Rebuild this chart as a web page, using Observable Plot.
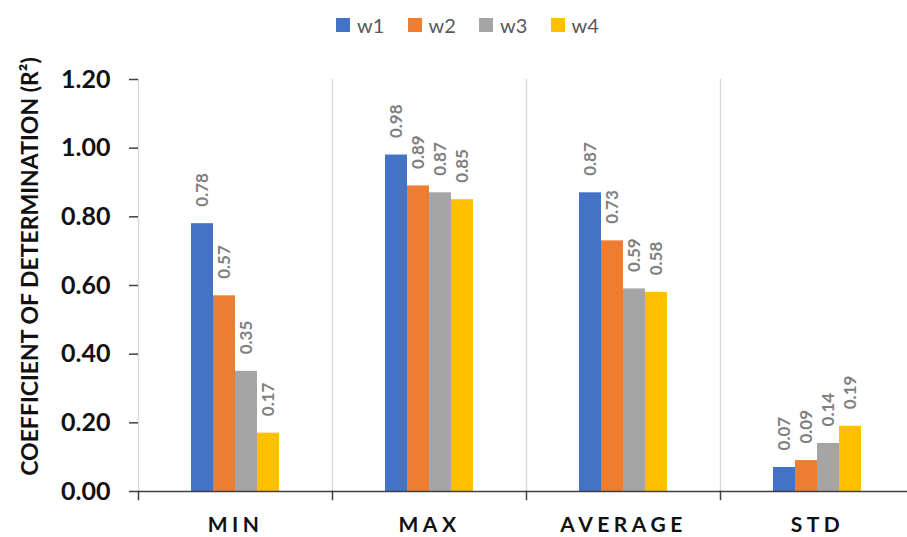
<!DOCTYPE html>
<html>
<head>
<meta charset="utf-8">
<script src="https://cdn.jsdelivr.net/npm/d3@7"></script>
<script src="https://cdn.jsdelivr.net/npm/@observablehq/plot@0.6"></script>
<style>
  body { margin: 0; background: #fff; }
  #chart { width: 907px; height: 537px; background: #fff; font-family: Lato, "Open Sans", sans-serif; }
  .legend { height: 40px; box-sizing: border-box; padding: 9px 0 0 336px; display: flex; align-items: center; }
  .legend .item { display: flex; align-items: center; width: 71.5px; }
  .legend .swatch { width: 14px; height: 14px; margin-right: 7px; }
  .legend .label { font-size: 20px; color: #595959; font-family: Lato, sans-serif; }
  #chart svg [aria-label="fx-axis tick label"] text { letter-spacing: 4.5px; }
</style>
</head>
<body>
<div id="chart"></div>
<script>
// Statistic groups along the x axis
const categories = ["MIN", "MAX", "AVERAGE", "STD"];
// Series shown within each group
const series = ["w1", "w2", "w3", "w4"];
const colors = ["#4472C4", "#ED7D31", "#A5A5A5", "#FFC000"];
// R² values per series, in the order of categories
const w1 = [0.78, 0.98, 0.87, 0.07];
const w2 = [0.57, 0.89, 0.73, 0.09];
const w3 = [0.35, 0.87, 0.59, 0.14];
const w4 = [0.17, 0.85, 0.58, 0.19];
const yTicks = [0, 0.2, 0.4, 0.6, 0.8, 1.0, 1.2];
const yTitle = "COEFFICIENT OF DETERMINATION (R²)";

const bySeries = {w1, w2, w3, w4};
const rows = categories.flatMap((category, i) =>
  series.map(s => ({category, series: s, value: bySeries[s][i]}))
);

const chart = document.getElementById("chart");

// Legend row above the plot
const legend = document.createElement("div");
legend.className = "legend";
series.forEach((s, i) => {
  const item = document.createElement("div");
  item.className = "item";
  const sw = document.createElement("span");
  sw.className = "swatch";
  sw.style.background = colors[i];
  const lb = document.createElement("span");
  lb.className = "label";
  lb.textContent = s;
  item.append(sw, lb);
  legend.append(item);
});
chart.append(legend);

const H = 497, mTop = 39, mBottom = 46;
const axisColor = "#404040";

const plot = Plot.plot({
  width: 907,
  height: H,
  marginLeft: 138,
  marginRight: -7,
  marginTop: mTop,
  marginBottom: mBottom,
  style: {fontFamily: "Lato, sans-serif", background: "#fff", color: "#111"},
  fx: {domain: categories, padding: 0, label: null, axis: null},
  x: {domain: series, paddingInner: 0, paddingOuter: 2.26, axis: null},
  y: {domain: [0, 1.2], axis: null},
  color: {domain: series, range: colors},
  marks: [
    // light separators between groups
    Plot.frame({anchor: "left", stroke: "#d9d9d9", strokeWidth: 1.3}),
    Plot.barY(rows, {fx: "category", x: "series", y: "value", fill: "series"}),
    Plot.text(rows, {
      fx: "category", x: "series", y: "value",
      text: d => d.value.toFixed(2),
      rotate: -90, textAnchor: "start", lineAnchor: "middle", dy: -17,
      fill: "#7f7f7f", fontSize: 17, fontWeight: "bold"
    }),
    Plot.ruleY([0], {stroke: axisColor, strokeWidth: 1.5}),
    // short ticks below the baseline at group boundaries
    Plot.frame({anchor: "left", insetTop: H - mTop - mBottom, insetBottom: -8, stroke: axisColor, strokeWidth: 1.5}),
    Plot.axisY({
      ticks: yTicks, tickFormat: d3.format(".2f"), tickSize: 9, tickPadding: 19,
      label: null, line: true, stroke: axisColor, strokeWidth: 1.5,
      fill: "#111", fontSize: 25, fontWeight: "bold"
    }),
    Plot.axisFx({
      anchor: "bottom", tickSize: 0, tickPadding: 26, label: null,
      fill: "#111", fontSize: 21, fontWeight: "bold"
    }),
    Plot.text([yTitle], {
      facet: "super", frameAnchor: "left", textAnchor: "middle", rotate: -90, dx: -108, dy: -19,
      fill: "#111", fontSize: 23, fontWeight: "bold"
    })
  ]
});
chart.append(plot);
</script>
</body>
</html>
